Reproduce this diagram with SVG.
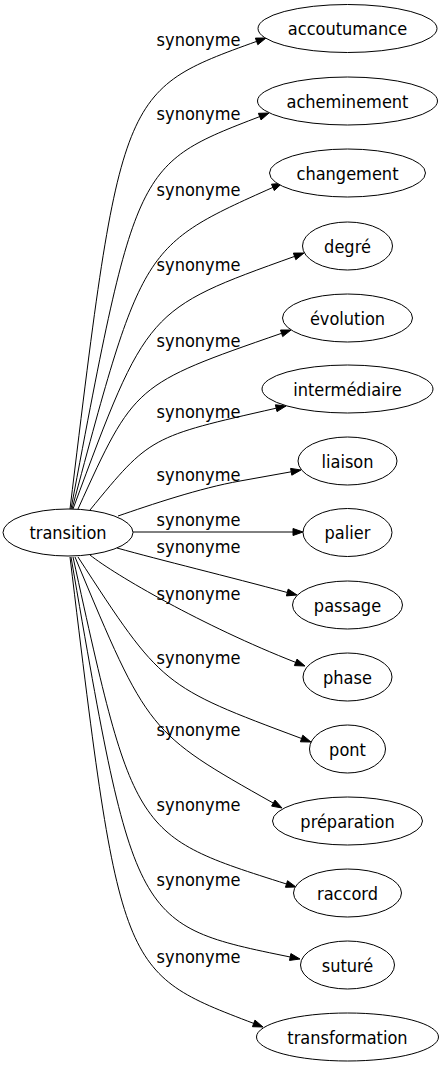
<svg xmlns="http://www.w3.org/2000/svg" width="443" height="1067" viewBox="0 0 443 1067">
<style>
.node ellipse{fill:#fff;stroke:#000;stroke-width:1}
.node text{font-family:'DejaVu Sans Condensed','DejaVu Sans',sans-serif;font-stretch:condensed;font-size:18px;text-anchor:middle;fill:#000}
.edge path{fill:none;stroke:#000;stroke-width:1}
.edge polygon{fill:#000;stroke:#000;stroke-width:1}
.edge text{font-family:'DejaVu Sans Condensed','DejaVu Sans',sans-serif;font-stretch:condensed;font-size:18px;text-anchor:middle;fill:#000}
</style>
<rect width="443" height="1067" fill="#fff"/>
<g id="edges">
<g class="edge" id="e1"><path d="M70,509 C120.7,90.5 120.7,90.5 256.6,41.4"/><polygon points="266,38 257.8,44.7 255.4,38.1"/><text x="198.5" y="46">synonyme</text></g>
<g class="edge" id="e2"><path d="M71,509 C135.9,164.2 135.9,164.2 259.7,116.6"/><polygon points="269,113 261,119.9 258.4,113.3"/><text x="198.5" y="119.5">synonyme</text></g>
<g class="edge" id="e3"><path d="M72,509 C142.3,245.8 142.3,245.8 272.9,187.4"/><polygon points="282,183.3 274.3,190.6 271.5,184.2"/><text x="198.5" y="196">synonyme</text></g>
<g class="edge" id="e4"><path d="M73,509 C146.9,309.3 146.9,309.3 294.6,256.4"/><polygon points="304,253 295.8,259.7 293.4,253.1"/><text x="198.5" y="271">synonyme</text></g>
<g class="edge" id="e5"><path d="M78,509 C134.5,384.3 134.5,384.3 281.6,333.3"/><polygon points="291,330 282.7,336.6 280.5,330"/><text x="198.5" y="346.5">synonyme</text></g>
<g class="edge" id="e6"><path d="M90,510 C150,436.7 150,436.7 276.2,408.2"/><polygon points="286,406 277,411.6 275.4,404.8"/><text x="198.5" y="418">synonyme</text></g>
<g class="edge" id="e7"><path d="M118,516 C150,505 200,488 240,481 L291.2,471.8"/><polygon points="301,470 291.8,475.2 290.6,468.4"/><text x="198.5" y="481">synonyme</text></g>
<g class="edge" id="e8"><path d="M133,532 L293,532"/><polygon points="303,532 293,535.5 293,528.5"/><text x="198.5" y="526">synonyme</text></g>
<g class="edge" id="e9"><path d="M117,548 C160,560 230,577 287.3,592.5"/><polygon points="297,595 286.4,595.9 288.2,589.1"/><text x="198.5" y="553">synonyme</text></g>
<g class="edge" id="e10"><path d="M90,555 C115,575 202.7,625.9 295.7,662.4"/><polygon points="305,666 294.4,665.6 297,659.1"/><text x="198.5" y="599.5">synonyme</text></g>
<g class="edge" id="e11"><path d="M78,557 C162,686.4 162,686.4 301.6,738.5"/><polygon points="311,742 300.4,741.8 302.8,735.2"/><text x="198.5" y="664">synonyme</text></g>
<g class="edge" id="e12"><path d="M75,557 C148.2,732.6 148.2,732.6 273.3,803.1"/><polygon points="282,808 271.6,806.1 275,800.1"/><text x="198.5" y="736">synonyme</text></g>
<g class="edge" id="e13"><path d="M73,557 C134.1,835.8 134.1,835.8 286.5,884"/><polygon points="296,887 285.45,887.3 287.55,880.7"/><text x="198.5" y="811">synonyme</text></g>
<g class="edge" id="e14"><path d="M71,557 C134.5,925.2 134.5,925.2 290.2,957"/><polygon points="300,959 289.5,960.4 290.9,953.6"/><text x="198.5" y="886">synonyme</text></g>
<g class="edge" id="e15"><path d="M70,557 C120.2,972.6 120.2,972.6 253.7,1023.4"/><polygon points="263,1027 252.45,1026.7 254.95,1020.1"/><text x="198.5" y="963">synonyme</text></g>
</g>
<g class="node" id="n-transition"><ellipse cx="68" cy="532.5" rx="65" ry="23.5"/><text x="68" y="539">transition</text></g>
<g class="node" id="n-accoutumance"><ellipse cx="347.5" cy="28.5" rx="89.5" ry="24"/><text x="347.5" y="35">accoutumance</text></g>
<g class="node" id="n-acheminement"><ellipse cx="347.5" cy="101" rx="90" ry="24"/><text x="347.5" y="107.5">acheminement</text></g>
<g class="node" id="n-changement"><ellipse cx="347.5" cy="173" rx="78" ry="24"/><text x="347.5" y="179.5">changement</text></g>
<g class="node" id="n-degre"><ellipse cx="347.5" cy="246" rx="45" ry="24"/><text x="347.5" y="252.5">degré</text></g>
<g class="node" id="n-evolution"><ellipse cx="347.5" cy="318" rx="65" ry="24"/><text x="347.5" y="324.5">évolution</text></g>
<g class="node" id="n-intermediaire"><ellipse cx="347.5" cy="389" rx="85.5" ry="24"/><text x="347.5" y="395.5">intermédiaire</text></g>
<g class="node" id="n-liaison"><ellipse cx="347.5" cy="461" rx="49.5" ry="24"/><text x="347.5" y="467.5">liaison</text></g>
<g class="node" id="n-palier"><ellipse cx="347.5" cy="532.5" rx="44.5" ry="24"/><text x="347.5" y="539">palier</text></g>
<g class="node" id="n-passage"><ellipse cx="347.5" cy="605" rx="55" ry="24"/><text x="347.5" y="611.5">passage</text></g>
<g class="node" id="n-phase"><ellipse cx="347.5" cy="677" rx="44.5" ry="24"/><text x="347.5" y="683.5">phase</text></g>
<g class="node" id="n-pont"><ellipse cx="347.5" cy="749" rx="38" ry="24"/><text x="347.5" y="755.5">pont</text></g>
<g class="node" id="n-preparation"><ellipse cx="347.5" cy="821" rx="75" ry="24"/><text x="347.5" y="827.5">préparation</text></g>
<g class="node" id="n-raccord"><ellipse cx="347.5" cy="893" rx="54" ry="24"/><text x="347.5" y="899.5">raccord</text></g>
<g class="node" id="n-suture"><ellipse cx="347.5" cy="965" rx="47" ry="24"/><text x="347.5" y="971.5">suturé</text></g>
<g class="node" id="n-transformation"><ellipse cx="347.5" cy="1037" rx="91" ry="24"/><text x="347.5" y="1043.5">transformation</text></g>
</svg>
